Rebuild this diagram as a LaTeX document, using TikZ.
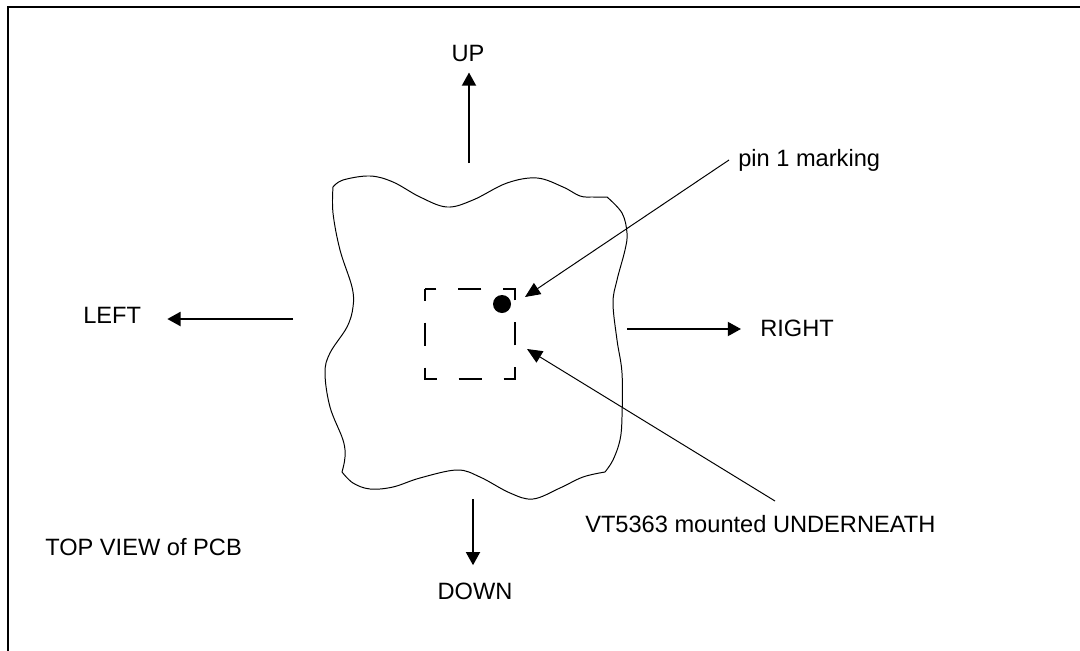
\documentclass[tikz,border=0pt]{standalone}
\usepackage{fontspec}
\setmainfont{Liberation Sans}
\usetikzlibrary{arrows.meta}
\tikzset{
  caption/.style={font=\fontsize{16.8}{20}\selectfont, inner sep=0pt},
  dirarrow/.style={line width=1.4pt, -{Triangle[length=0.33cm,width=0.35cm]}},
  leader/.style={line width=0.7pt, -{Triangle[length=0.38cm,width=0.33cm]}},
  pcbedge/.style={line width=0.7pt},
  chipoutline/.style={line width=1.5pt, dash pattern=on 0.575cm off 0.55cm, dash phase=0.2875cm},
  pinmark/.style={circle, fill=black, minimum size=0.45cm, inner sep=0pt}
}

\begin{document}
\begin{tikzpicture}[x=0.025cm, y=-0.025cm]
\useasboundingbox (0,0) rectangle (1080,651);
\draw [line width=1.4pt] (8,660) -- (8,7) -- (1090,7);

% board outline, one edge at a time
\draw [pcbedge] plot [smooth, tension=0.6] coordinates {(333,187) (343,180) (370,176) (393,182) (420,197) (447,207) (473,200) (507,183) (537,178) (563,187) (580,196) (593,197) (607,197)};
\draw [pcbedge] plot [smooth, tension=0.6] coordinates {(607,197) (622,213) (627,233) (625,250) (617,280) (613,303) (617,340) (622,373) (622,417) (620,440) (613,460) (605,472)};
\draw [pcbedge] plot [smooth, tension=0.6] coordinates {(605,472) (583,477) (560,488) (533,499) (510,493) (480,477) (457,470) (420,478) (393,487) (370,489) (353,483) (342,472)};
\draw [pcbedge] plot [smooth, tension=0.6] coordinates {(342,472) (345,457) (343,440) (330,407) (325,373) (330,353) (347,327) (353,307) (352,287) (340,250) (333,213) (333,187)};

% sensor footprint and pin 1
\draw [chipoutline] (425,289) rectangle (515,379);
\node [pinmark] (dot) at (502,304) {};

% directions
\node [caption, anchor=base] (up) at (468,61) {UP};
\node [caption, anchor=base west] (left) at (83,323) {LEFT};
\node [caption, anchor=base west] (right) at (760,336) {RIGHT};
\node [caption, anchor=base] (down) at (475,599) {DOWN};
\coordinate (uptail) at (469,163);
\coordinate (lefttail) at (293,319);
\coordinate (righttail) at (627,329);
\coordinate (downtail) at (473,499);
\draw [dirarrow, shorten >=0.275cm] (uptail) -- (uptail |- up.south);
\draw [dirarrow, shorten >=0.65cm] (lefttail) -- (lefttail -| left.east);
\draw [dirarrow, shorten >=0.475cm] (righttail) -- (righttail -| right.west);
\draw [dirarrow, shorten >=0.425cm] (downtail) -- (downtail |- down.north);

% call-outs
\node [caption, anchor=base west] (pin) at (738,166) {pin 1 marking};
\node [caption, anchor=base west] (vt) at (585,532) {VT5363 mounted UNDERNEATH};
\node [caption, anchor=base west] (top) at (45,555) {TOP VIEW of PCB};
\coordinate (pinfoot) at (729,160);
\coordinate (pintip) at (525,297);
\coordinate (vtfoot) at (775,501);
\coordinate (vttip) at (527,349);
\draw [leader] (pinfoot) -- (pintip);
\draw [leader] (vtfoot) -- (vttip);

\end{tikzpicture}
\end{document}
